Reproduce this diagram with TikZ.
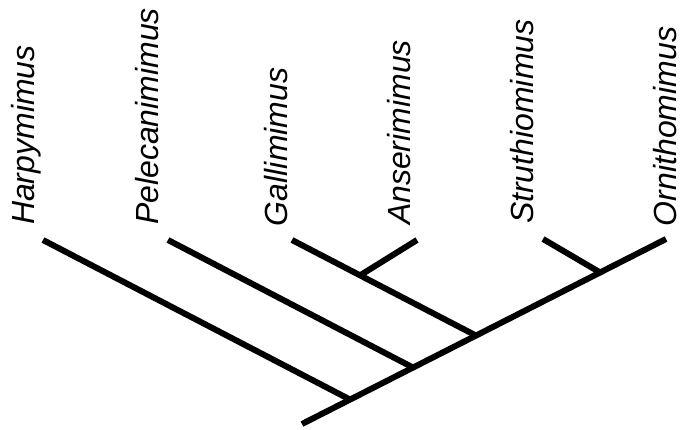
\documentclass[tikz,border=0pt]{standalone}
\usepackage{fontspec}
\setmainfont{Liberation Sans}
\usetikzlibrary{calc}
\begin{document}
\begin{tikzpicture}[x=1pt,y=-1pt,
  branch/.style={line width=6pt,line cap=butt},
  taxon/.style={rotate=90,anchor=base west,inner sep=0pt,outer sep=0pt,
    font=\fontsize{32}{38}\selectfont\itshape}]
\useasboundingbox (0,0) rectangle (682,430);
% tips
\coordinate (tH) at (43,240);
\coordinate (tP) at (168,240);
\coordinate (tG) at (292,240);
\coordinate (tA) at (417,240);
\coordinate (tS) at (543,239);
\coordinate (tO) at (666,239);
\coordinate (root) at (302,424);
% junctions
\coordinate (jH) at ($(root)!0.132!(tO)$);
\coordinate (jP) at ($(root)!0.305!(tO)$);
\coordinate (jG) at ($(root)!0.478!(tO)$);
\coordinate (jS) at ($(root)!0.819!(tO)$);
\coordinate (jA) at ($(tG)!0.37!(jG)$);
% branches
\draw[branch] (root) -- (tO);
\draw[branch] (tH) -- (jH);
\draw[branch] (tP) -- (jP);
\draw[branch] (tG) -- (jG);
\draw[branch] (tA) -- (jA);
\draw[branch] (tS) -- (jS);
% labels
\node[taxon] (lH) at (34,225) {Harpymimus};
\node[taxon] (lP) at (158,225) {Pelecanimimus};
\node[taxon] (lG) at (287,226) {Gallimimus};
\node[taxon] (lA) at (410,225) {Anserimimus};
\node[taxon] (lS) at (533,224) {Struthiomimus};
\node[taxon] (lO) at (676,226) {Ornithomimus};
\end{tikzpicture}
\end{document}
